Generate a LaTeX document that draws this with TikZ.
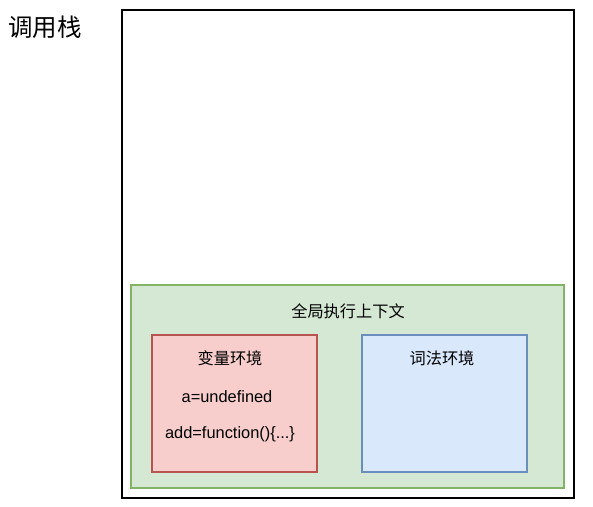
\documentclass[tikz,border=0pt]{standalone}
\usepackage{fontspec}
\setmainfont{Liberation Sans}
\newfontfamily\cjk{Noto Sans CJK SC}
\usepackage{tikz}
\usetikzlibrary{positioning}
\definecolor{ctxgreen}{HTML}{D5E8D4}
\definecolor{ctxgreenline}{HTML}{82B366}
\definecolor{envred}{HTML}{F8CECC}
\definecolor{envredline}{HTML}{B85450}
\definecolor{envblue}{HTML}{DAE8FC}
\definecolor{envblueline}{HTML}{6C8EBF}

\begin{document}
\begin{tikzpicture}[x=1pt, y=-1pt,
  stackbox/.style={draw=black, line width=2.2pt, fill=white, minimum width=452pt, minimum height=488pt},
  ctxbox/.style={draw=ctxgreenline, line width=2pt, fill=ctxgreen, minimum width=433pt, minimum height=203pt},
  envbox/.style={line width=2pt, minimum width=165pt, minimum height=137pt},
  label/.style={font=\fontsize{16.2}{19}\selectfont\cjk},
  code/.style={font=\fontsize{16.4}{19}\selectfont}]
  \useasboundingbox (0,0) rectangle (593,506);
  % call stack
  \node[stackbox] (stack) at (348,254) {};
  \node[font=\fontsize{24.5}{28}\selectfont\cjk] (stacklbl) at (45,27) {调用栈};
  % global execution context
  \node[ctxbox] (ctx) at (347.5,386.5) {};
  \node[label] (ctxlbl) at (348,311) {全局执行上下文};
  % variable environment
  \node[envbox, draw=envredline, fill=envred] (varenv) at (234.5,403) {};
  \node[label] (varlbl) at (230,358) {变量环境};
  \node[code] (vara) at (227,397) {a=undefined};
  \node[code] (varadd) at (230,434) {add=function()\{...\}};
  % lexical environment
  \node[envbox, draw=envblueline, fill=envblue] (lexenv) at (444.5,403) {};
  \node[label] (lexlbl) at (442,358) {词法环境};
\end{tikzpicture}
\end{document}
